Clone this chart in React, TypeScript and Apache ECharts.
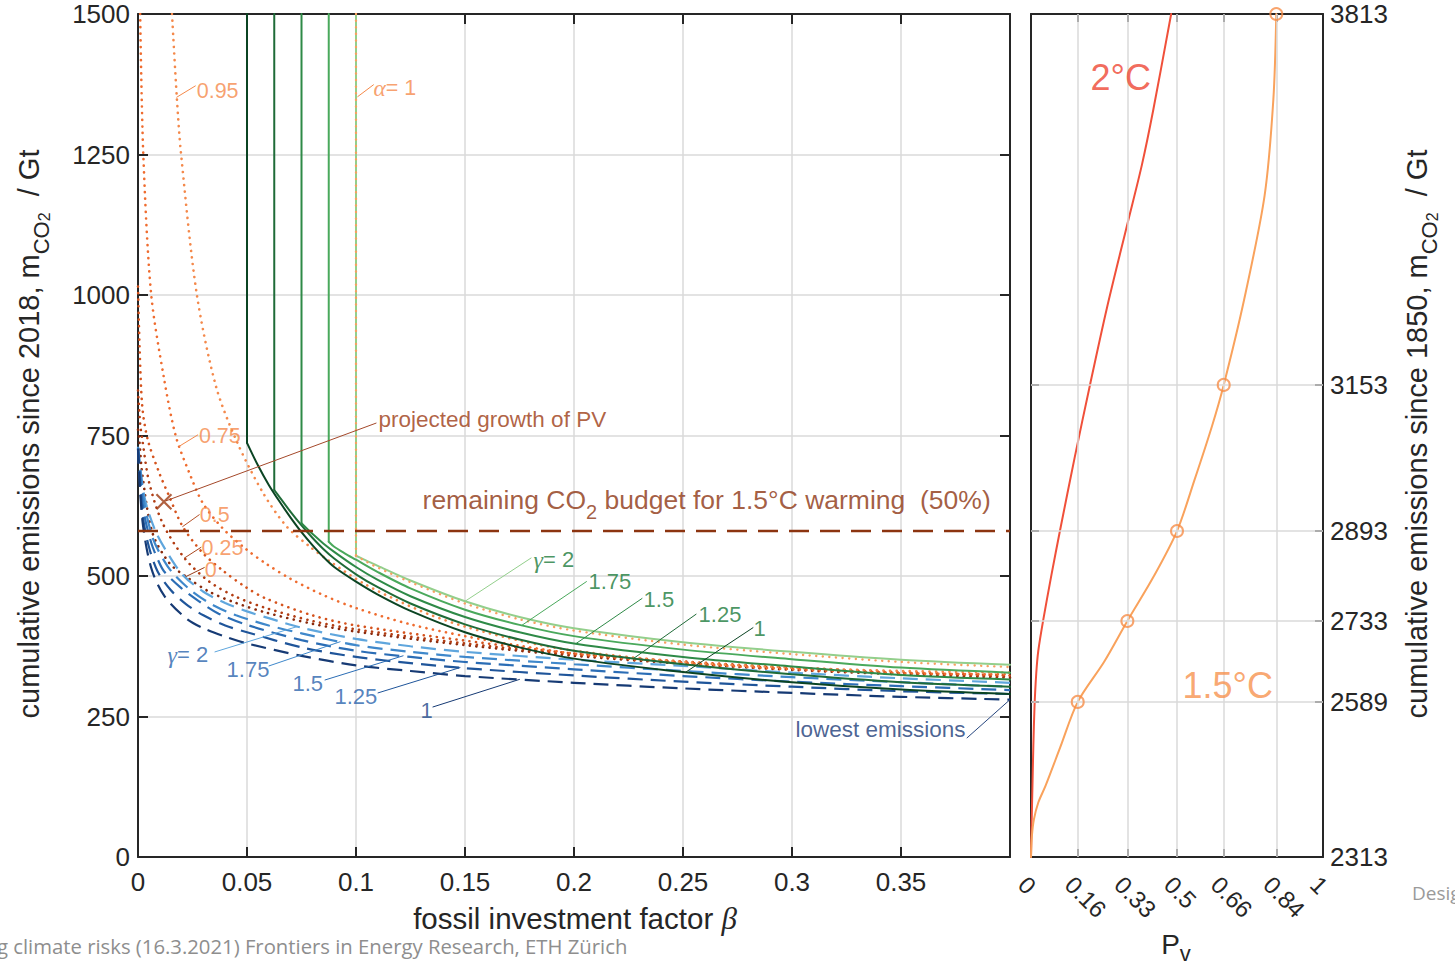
import React, { useEffect, useRef } from 'react';
import * as echarts from 'echarts';

// ---------- main panel: beta axis (0..0.4) vs emissions since 2018 (Gt) ----------
const betaTicks = [0, 0.05, 0.1, 0.15, 0.2, 0.25, 0.3, 0.35, 0.4];
const emTicks = [0, 250, 500, 750, 1000, 1250, 1500];
const budget15 = 580;

// green solid curves (gamma), vertical part then decay
const greenG1 = [[0.05,1500],[0.05,737],[0.055,697],[0.06,662],[0.065,632],[0.07,604],[0.075,578],[0.08,555],[0.085,534],[0.09,516],[0.1,490],[0.11,467],[0.125,438],[0.15,400],[0.175,373],[0.2,353],[0.25,329],[0.3,311],[0.35,298],[0.4,290]];
const greenG125 = [[0.0625,1500],[0.0625,653],[0.065,640],[0.07,614],[0.075,590],[0.08,568],[0.085,548],[0.09,531],[0.1,503],[0.11,480],[0.125,451],[0.15,414],[0.175,387],[0.2,367],[0.25,343],[0.3,325],[0.35,311],[0.4,303]];
const greenG15 = [[0.075,1500],[0.075,594],[0.08,575],[0.085,558],[0.09,543],[0.1,516],[0.11,493],[0.125,464],[0.15,427],[0.175,400],[0.2,380],[0.25,356],[0.3,339],[0.35,324],[0.4,316]];
const greenG175 = [[0.0875,1500],[0.0875,561],[0.09,552],[0.095,540],[0.1,529],[0.11,507],[0.125,478],[0.15,440],[0.175,413],[0.2,393],[0.25,369],[0.3,352],[0.35,337],[0.4,328]];
const greenG2 = [[0.1,1500],[0.1,536],[0.105,527],[0.11,518],[0.125,492],[0.15,455],[0.175,427],[0.2,407],[0.25,382],[0.3,365],[0.35,351],[0.4,342]];

// blue dashed curves (gamma, lowest emissions)
const blueG2 = [[0,730],[0.003,640],[0.008,580],[0.014,538],[0.0205,502],[0.03,472],[0.04,452],[0.05,437],[0.06,425],[0.075,408],[0.1,388],[0.125,375],[0.15,365],[0.2,351],[0.25,340],[0.3,328],[0.35,318],[0.4,310]];
const blueG175 = [[0,729],[0.003,628],[0.007,565],[0.012,527],[0.016,505],[0.025,472],[0.035,447],[0.045,430],[0.06,412],[0.075,398],[0.1,377],[0.125,365],[0.15,356],[0.2,343],[0.25,331],[0.3,320],[0.35,311],[0.4,303]];
const blueG15 = [[0,728],[0.0025,618],[0.006,560],[0.009,530],[0.012,508],[0.02,478],[0.028,455],[0.037,433],[0.05,413],[0.075,386],[0.1,367],[0.125,356],[0.15,347],[0.2,334],[0.25,322],[0.3,312],[0.35,304],[0.4,297]];
const blueG125 = [[0,727],[0.002,612],[0.005,552],[0.009,508],[0.015,475],[0.022,450],[0.03,430],[0.04,412],[0.05,400],[0.075,373],[0.1,356],[0.125,345],[0.15,336],[0.2,323],[0.25,312],[0.3,303],[0.35,295],[0.4,290]];
const blueG1 = [[0,726],[0.002,600],[0.006,515],[0.012,465],[0.022,425],[0.03,407],[0.04,392],[0.05,380],[0.075,358],[0.1,341],[0.125,331],[0.15,322],[0.2,310],[0.25,300],[0.3,292],[0.35,285],[0.4,280]];

// dotted curves (alpha)
const dotA0 = [[0,760],[0.0006,742],[0.002,680],[0.0067,576],[0.0144,523],[0.022,499],[0.0327,472],[0.045,452],[0.0587,435],[0.08,415],[0.1,401],[0.15,377],[0.2,358],[0.25,344],[0.3,333],[0.35,325],[0.4,319]];
const dotA025 = [[0,830],[0.001,770],[0.002,742],[0.0052,665],[0.0113,594],[0.0213,532],[0.0327,490],[0.045,463],[0.0587,443],[0.08,420],[0.1,405],[0.15,380],[0.2,360],[0.25,346],[0.3,335],[0.35,327],[0.4,321]];
const dotA05 = [[0,1015],[0.0008,900],[0.002,800],[0.0045,742],[0.0098,683],[0.0144,641],[0.0205,588],[0.0297,541],[0.0388,510],[0.0495,480],[0.0587,460],[0.08,430],[0.1,412],[0.15,385],[0.2,362],[0.25,348],[0.3,337],[0.35,329],[0.4,323]];
const dotA075 = [[0.001,1500],[0.0024,1253],[0.006,1003],[0.012,850],[0.0174,748],[0.0236,683],[0.0297,630],[0.0388,585],[0.0495,548],[0.0587,522],[0.07,495],[0.085,466],[0.1,443],[0.125,414],[0.15,393],[0.175,376],[0.2,362],[0.25,345],[0.3,334],[0.35,327],[0.4,325]];
const dotA095 = [[0.0156,1500],[0.0178,1352],[0.0197,1253],[0.0269,1003],[0.0358,837],[0.0457,736],[0.0575,647],[0.0682,588],[0.0789,552],[0.088,526],[0.1034,487],[0.1187,457],[0.134,431],[0.15,410],[0.175,385],[0.2,367],[0.25,347],[0.3,337],[0.35,331],[0.4,328]];
const dotA1 = [[0.1,1500],[0.1,536],[0.105,525],[0.11,515],[0.125,489],[0.15,451],[0.175,423],[0.2,403],[0.25,378],[0.3,361],[0.35,347],[0.4,338]];

// annotations (data coordinates)
const pvMarker = [0.0119, 632];
const alphaLabelText = ['0.95', '{g|α}= 1', '0.75', '0.5', '0.25', '0'];
const alphaLabelPos = [[0.0267,1363],[0.1078,1369],[0.0277,750],[0.0281,609],[0.0289,550],[0.0304,511]];
const alphaLeaders = [
  [[0.0178,1352],[0.0263,1372]],
  [[0.1008,1353],[0.108,1374]],
  [[0.019,731],[0.0274,751]],
  [[0.0205,588],[0.0281,609]],
  [[0.0213,532],[0.0289,551]],
  [[0.022,499],[0.0304,515]],
];
const greenLabelText = ['{g|γ}= 2', '1.75', '1.5', '1.25', '1'];
const greenLabelPos = [[0.1812,529],[0.2064,490],[0.2317,458],[0.2569,431],[0.2821,406]];
const greenLeaders = [
  [[0.150,455],[0.1803,532]],
  [[0.176,412],[0.2057,490]],
  [[0.201,380],[0.2312,460]],
  [[0.2276,354],[0.256,432]],
  [[0.2513,329],[0.2821,408]],
];
const blueLabelText = ['{g|γ}= 2', '1.75', '1.5', '1.25', '1'];
const blueLabelPos = [[0.0133,360],[0.0404,333],[0.0706,308],[0.0899,285],[0.1294,260]];
const blueLeaders = [
  [[0.0353,365],[0.073,410]],
  [[0.0601,340],[0.0927,383]],
  [[0.0858,315],[0.1216,358]],
  [[0.1101,292],[0.1477,337]],
  [[0.1353,267],[0.175,316]],
];
const pvLeader = [[0.013,634],[0.1092,772]];
const pvLabelPos = [0.1101, 778];
const budgetLabelPos = [0.1303, 636];
const lowestLabelPos = [0.3014, 226];
const lowestLeader = [[0.3803,212],[0.4,280]];

// ---------- right panel: probability vs emissions since 1850 ----------
const pvTicks = [0, 0.16, 0.33, 0.5, 0.66, 0.84, 1];
const em1850Ticks = [2313, 2589, 2733, 2893, 3153, 3813];
const curve2C = [[0,2313],[0.002,2370],[0.005,2440],[0.008,2510],[0.012,2580],[0.018,2640],[0.025,2680],[0.042,2735],[0.07,2815],[0.099,2893],[0.15,3025],[0.202,3153],[0.26,3290],[0.328,3435],[0.38,3545],[0.419,3643],[0.48,3813]];
const curve15C = [[0,2313],[0.003,2350],[0.01,2380],[0.025,2410],[0.05,2440],[0.1,2508],[0.16,2589],[0.25,2660],[0.33,2733],[0.42,2812],[0.5,2893],[0.56,2984],[0.62,3080],[0.66,3153],[0.73,3305],[0.8,3490],[0.83,3661],[0.84,3813]];
const markers15C = [[0.16,2589],[0.33,2733],[0.5,2893],[0.66,3153],[0.84,3813]];
const label2CPos = [0.202, 3700];
const label15CPos = [0.517, 2619];

const FONT = "'Liberation Sans', Arial, Helvetica, sans-serif";
const SERIF = "'Liberation Serif', 'DejaVu Serif', serif";
const AX = '#262626';
const GRID = '#dadada';

const greenColors = ['#0b4423', '#1f6b38', '#2e8a47', '#4aa95c', '#93cf8c'];
const blueColors = ['#5fa6dd', '#3f88cb', '#2b6db5', '#1f559a', '#163a74'];
const dotColors = ['#8a2a0c', '#b23c12', '#d5531d', '#ef6c2f', '#f4894b', '#f7a060'];
const orangeText = '#f5894a';
const brown = '#8c3410';
const greenText = '#1b7a3a';
const blueText = '#2a63ad';

function buildOption() {
  const S: any[] = [];
  const line = (data: any, color: string, width: number, type: any, smooth: any, z: number, xi = 0, yi = 0, cap = 'round') => {
    S.push({
      type: 'line', xAxisIndex: xi, yAxisIndex: yi, data, symbol: 'none', showSymbol: false,
      smooth, silent: true, z, animation: false,
      lineStyle: { color, width, type, cap },
      emphasis: { disabled: true },
    });
  };
  const text = (pos: any, t: string, color: string, fontSize: number, rich: any = {}, xi = 0, yi = 0, extra: any = {}) => {
    S.push({
      type: 'scatter', xAxisIndex: xi, yAxisIndex: yi, data: [pos], symbolSize: 1,
      itemStyle: { color: 'rgba(0,0,0,0)' }, silent: true, z: 9, animation: false,
      label: { show: true, position: 'right', distance: 0, formatter: t, color, fontSize, fontFamily: FONT, rich, ...extra },
    });
  };
  const greek = (color: string, size: number) => ({ g: { fontFamily: SERIF, fontStyle: 'italic', fontSize: size + 2, color, lineHeight: 16 } });

  const DOT = [0.1, 6.5];
  const dots = [dotA0, dotA025, dotA05, dotA075, dotA095];
  dots.forEach((d, i) => line(d, dotColors[i], 2.6, DOT, 0.3, 3));

  const blues = [blueG2, blueG175, blueG15, blueG125, blueG1];
  blues.forEach((d, i) => line(d, blueColors[i], 2.2, [15, 8], 0.3, 3, 0, 0, 'butt'));

  const greens = [greenG1, greenG125, greenG15, greenG175, greenG2];
  greens.forEach((d, i) => {
    line(d.slice(0, 2), greenColors[i], 2, 'solid', false, 4);
    line(d.slice(1), greenColors[i], 2, 'solid', 0.3, 4);
  });
  line(dotA1.slice(0, 2), dotColors[5], 2.4, DOT, false, 5);
  line(dotA1.slice(1), dotColors[5], 2.4, DOT, 0.3, 5);

  line([[0, budget15], [0.4, budget15]], brown, 2.6, [20, 11], false, 5, 0, 0, 'butt');

  const alphaLeaderColors = [orangeText, orangeText, orangeText, '#b5532a', '#a9461e', '#9a3b17'];
  alphaLeaders.forEach((d, i) => line(d, alphaLeaderColors[i], 1, 'solid', false, 6));
  greenLeaders.forEach((d, i) => line(d, greenColors[4 - i], 1, 'solid', false, 6));
  blueLeaders.forEach((d, i) => line(d, blueColors[i], 1, 'solid', false, 6));
  line(pvLeader, '#a4482a', 1, 'solid', false, 6);
  line(lowestLeader, '#27467e', 1, 'solid', false, 6);

  alphaLabelText.forEach((t, i) => text(alphaLabelPos[i], t, orangeText, 21.5, greek(orangeText, 21.5), 0, 0, { lineHeight: 16 }));
  greenLabelText.forEach((t, i) => text(greenLabelPos[i], t, greenText, 22, greek(greenText, 22), 0, 0, { lineHeight: 18 }));
  blueLabelText.forEach((t, i) => text(blueLabelPos[i], t, i === 4 ? '#1f4a8a' : blueText, 22, greek(blueText, 22), 0, 0, { lineHeight: 18 }));
  text(pvLabelPos, 'projected growth of PV', '#9c3a12', 22.5);
  text(budgetLabelPos, 'remaining CO{sub|2} budget for 1.5°C warming  (50%)', brown, 26.5,
    { sub: { fontSize: 20, color: brown, lineHeight: 12, verticalAlign: 'bottom', fontFamily: FONT } }, 0, 0, { lineHeight: 44 });
  text(lowestLabelPos, 'lowest emissions', '#1c3c78', 22.5);

  S.push({
    type: 'scatter', xAxisIndex: 0, yAxisIndex: 0, data: [pvMarker], silent: true, z: 8, animation: false,
    symbol: 'path://M0,0L10,10M10,0L0,10', symbolSize: 15,
    itemStyle: { color: 'none', borderColor: '#9c3a12', borderWidth: 2.2 },
  });

  // ---------- right panel ----------
  S.push({
    type: 'line', xAxisIndex: 2, yAxisIndex: 2, data: [[0, 2313]], symbol: 'none', silent: true, z: 1, animation: false,
    lineStyle: { width: 0 },
    markLine: {
      silent: true, symbol: 'none', animation: false, label: { show: false },
      lineStyle: { color: GRID, width: 1.5, type: 'solid' },
      data: [
        ...pvTicks.slice(1, -1).map((v) => ({ xAxis: v })),
        ...em1850Ticks.slice(1, -1).map((v) => ({ yAxis: v })),
      ],
    },
  });
  line(curve2C, '#f0503a', 2, 'solid', 0.3, 4, 2, 2);
  line(curve15C, '#f9a25c', 2, 'solid', 0.3, 4, 2, 2);
  S.push({
    type: 'scatter', xAxisIndex: 2, yAxisIndex: 2, data: markers15C, silent: true, z: 6, animation: false, clip: false,
    symbol: 'circle', symbolSize: 12,
    itemStyle: { color: 'rgba(255,255,255,0)', borderColor: '#f68d48', borderWidth: 2 },
  });
  text(label2CPos, '2°C', '#ee4532', 36, {}, 2, 2);
  text(label15CPos, '1.5°C', '#f7914d', 36, {}, 2, 2);

  const tickStyle = { color: AX, width: 2 };
  const axisLine = { show: true, onZero: false, lineStyle: { color: AX, width: 2 } };
  const labelStyle = { color: AX, fontSize: 26, fontFamily: FONT };
  const fmt = (v: number) => String(parseFloat(v.toFixed(3)));

  const xAxis = [
    {
      gridIndex: 0, type: 'value', position: 'bottom', min: betaTicks[0], max: betaTicks[betaTicks.length - 1], interval: 0.05,
      axisLine, axisTick: { show: true, inside: true, length: 10, lineStyle: tickStyle },
      axisLabel: { ...labelStyle, margin: 12, formatter: (v: number) => (v > 0.39 ? '' : fmt(v)) },
      splitLine: { show: true, lineStyle: { color: GRID, width: 1.5 } },
    },
    {
      gridIndex: 0, type: 'value', position: 'top', min: 0, max: 0.4, interval: 0.05,
      axisLine, axisTick: { show: true, inside: true, length: 10, lineStyle: tickStyle },
      axisLabel: { show: false }, splitLine: { show: false },
    },
    {
      gridIndex: 1, type: 'value', position: 'bottom', min: 0, max: 1,
      axisLine, axisTick: { show: true, inside: true, length: 8, lineStyle: tickStyle, customValues: pvTicks },
      axisLabel: { ...labelStyle, fontSize: 24, customValues: pvTicks, rotate: -45, align: 'left', verticalAlign: 'top', margin: 15, formatter: fmt },
      splitLine: { show: false },
    },
    {
      gridIndex: 1, type: 'value', position: 'top', min: 0, max: 1,
      axisLine, axisTick: { show: true, inside: true, length: 8, lineStyle: tickStyle, customValues: pvTicks },
      axisLabel: { show: false }, splitLine: { show: false },
    },
  ];
  const yAxis = [
    {
      gridIndex: 0, type: 'value', position: 'left', min: emTicks[0], max: emTicks[emTicks.length - 1], interval: 250,
      axisLine, axisTick: { show: true, inside: true, length: 10, lineStyle: tickStyle },
      axisLabel: { ...labelStyle, margin: 8, formatter: (v: number) => String(v) },
      splitLine: { show: true, lineStyle: { color: GRID, width: 1.5 } },
    },
    {
      gridIndex: 0, type: 'value', position: 'right', min: 0, max: 1500, interval: 250,
      axisLine, axisTick: { show: true, inside: true, length: 10, lineStyle: tickStyle },
      axisLabel: { show: false }, splitLine: { show: false },
    },
    {
      gridIndex: 1, type: 'value', position: 'right', min: em1850Ticks[0], max: em1850Ticks[em1850Ticks.length - 1],
      axisLine, axisTick: { show: true, inside: true, length: 8, lineStyle: tickStyle, customValues: em1850Ticks },
      axisLabel: { ...labelStyle, margin: 7, customValues: em1850Ticks, formatter: (v: number) => String(v) },
      splitLine: { show: false },
    },
    {
      gridIndex: 1, type: 'value', position: 'left', min: 2313, max: 3813,
      axisLine, axisTick: { show: true, inside: true, length: 8, lineStyle: tickStyle, customValues: em1850Ticks },
      axisLabel: { show: false }, splitLine: { show: false },
    },
  ];

  const subRich = (color: string) => ({
    s: { fontSize: 22, lineHeight: 24, verticalAlign: 'bottom', fill: color, color, fontFamily: FONT },
    ss: { fontSize: 16, lineHeight: 4, verticalAlign: 'bottom', fill: color, color, fontFamily: FONT },
  });

  const graphic = [
    {
      type: 'text', x: 29, y: 434, rotation: Math.PI / 2, silent: true,
      style: {
        text: 'cumulative emissions since 2018, m{s|CO}{ss|2}  / Gt', fill: AX, fontSize: 29, fontFamily: FONT,
        align: 'center', verticalAlign: 'middle', lineHeight: 46, rich: subRich(AX),
      },
    },
    {
      type: 'text', x: 1417, y: 434, rotation: Math.PI / 2, silent: true,
      style: {
        text: 'cumulative emissions since 1850, m{s|CO}{ss|2}  / Gt', fill: AX, fontSize: 29, fontFamily: FONT,
        align: 'center', verticalAlign: 'middle', lineHeight: 46, rich: subRich(AX),
      },
    },
    {
      type: 'text', x: 575, y: 918, silent: true,
      style: {
        text: 'fossil investment factor {b|β}', fill: AX, fontSize: 29.5, fontFamily: FONT, align: 'center', verticalAlign: 'middle',
        rich: { b: { fontFamily: SERIF, fontStyle: 'italic', fontSize: 31, fill: AX, color: AX } },
      },
    },
    {
      type: 'text', x: 1176, y: 944, silent: true,
      style: {
        text: 'P{v|v}', fill: AX, fontSize: 28, fontFamily: FONT, align: 'center', verticalAlign: 'middle', lineHeight: 40,
        rich: { v: { fontSize: 22, lineHeight: 12, verticalAlign: 'bottom', fill: AX, color: AX, fontFamily: FONT } },
      },
    },
    {
      type: 'text', x: -3, y: 946, silent: true,
      style: { text: 'g climate risks (16.3.2021) Frontiers in Energy Research, ETH Zürich', fill: '#8e8e8e', fontSize: 20.3, fontFamily: "'Open Sans', 'Noto Sans', sans-serif", align: 'left', verticalAlign: 'middle' },
    },
    {
      type: 'text', x: 1412, y: 893, silent: true,
      style: { text: 'Design', fill: '#9a9a9a', fontSize: 19, fontFamily: "'Open Sans', 'Noto Sans', sans-serif", align: 'left', verticalAlign: 'middle' },
    },
  ];

  return {
    animation: false,
    backgroundColor: '#ffffff',
    grid: [
      { left: 138, top: 14, width: 872, height: 843, containLabel: false, outerBoundsMode: 'none' },
      { left: 1031, top: 14, width: 292, height: 843, containLabel: false, outerBoundsMode: 'none' },
    ],
    xAxis, yAxis, series: S, graphic,
    tooltip: { show: false },
  };
}

export default function App() {
  const ref = useRef<HTMLDivElement>(null);
  useEffect(() => {
    const chart = echarts.init(ref.current as HTMLDivElement, null, { renderer: 'svg' });
    chart.setOption(buildOption() as any);
    return () => chart.dispose();
  }, []);
  return <div ref={ref} style={{ position: 'absolute', left: 0, top: 0, width: 1455, height: 970, background: '#fff' }} />;
}
